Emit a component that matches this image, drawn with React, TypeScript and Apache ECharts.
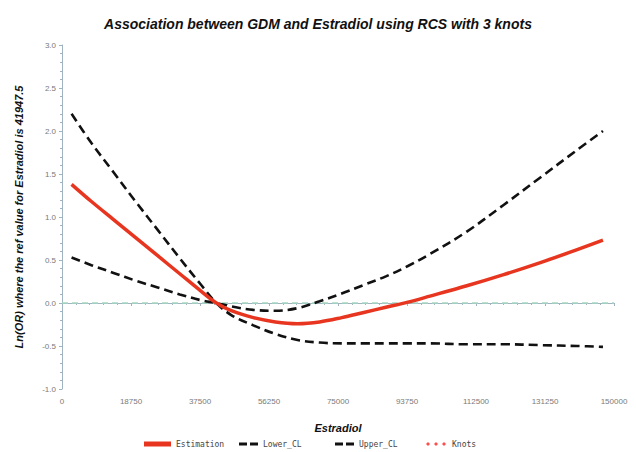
import React, { useEffect, useRef } from "react";
import * as echarts from "echarts";

const titleText = "Association between GDM and Estradiol using RCS with 3 knots";
const xName = "Estradiol";
const yName = "Ln(OR) where the ref value for Estradiol is 41947.5";

const xVals = [2600, 8000, 14000, 20000, 26000, 32000, 38000, 41947.5, 46000, 52000, 58000, 64000, 70000, 76000, 82000, 88000, 94000, 100000, 110000, 120000, 130000, 140000, 147000];
const estimation = [1.38, 1.18, 0.97, 0.76, 0.55, 0.34, 0.13, 0, -0.09, -0.17, -0.22, -0.24, -0.22, -0.17, -0.11, -0.05, 0.01, 0.08, 0.2, 0.33, 0.47, 0.62, 0.73];
const upperCL = [2.2, 1.86, 1.52, 1.18, 0.85, 0.52, 0.2, 0, -0.14, -0.26, -0.36, -0.43, -0.46, -0.47, -0.47, -0.47, -0.47, -0.47, -0.48, -0.48, -0.49, -0.5, -0.51];
const lowerCL = [0.53, 0.44, 0.35, 0.26, 0.18, 0.1, 0.03, 0, -0.04, -0.08, -0.09, -0.06, 0.02, 0.11, 0.21, 0.31, 0.43, 0.57, 0.83, 1.14, 1.46, 1.78, 2.0];
const knots: number[][] = [];

const pairs = (arr: number[]) => xVals.map((x, i) => [x, arr[i]]);

const axisColor = "#9fb3c0";
const labelColor = "#7a7a7a";
const dashIcon = "path://M0,0H8V3H0Z M11,0H19V3H11Z";
const dotsIcon = "path://M0,2L2,0L4,2L2,4Z M8,2L10,0L12,2L10,4Z M16,2L18,0L20,2L18,4Z";
const legendText = { fontFamily: "DejaVu Sans Mono", fontSize: 8, color: "#444" };

export default function App() {
  const ref = useRef<HTMLDivElement>(null);
  useEffect(() => {
    if (!ref.current) return;
    const chart = echarts.init(ref.current, undefined, { renderer: "svg" });
    chart.setOption({
      animation: false,
      backgroundColor: "#ffffff",
      title: {
        text: titleText,
        left: "center",
        top: 12,
        textStyle: { fontFamily: "Liberation Sans", fontSize: 14, fontWeight: "bold", fontStyle: "italic", color: "#111" },
      },
      grid: { left: 62, right: 22, top: 45, bottom: 63 },
      xAxis: {
        type: "value",
        min: 0,
        max: 150000,
        interval: 18750,
        name: xName,
        nameLocation: "middle",
        nameGap: 33,
        nameTextStyle: { fontFamily: "Liberation Sans", fontSize: 11, fontWeight: "bold", fontStyle: "italic", color: "#111" },
        axisLine: { lineStyle: { color: axisColor, width: 1 } },
        axisTick: { length: 3, lineStyle: { color: axisColor } },
        minorTick: { show: true, splitNumber: 5, length: 2, lineStyle: { color: axisColor } },
        splitLine: { show: false },
        axisLabel: { fontFamily: "Liberation Sans", fontSize: 8, color: labelColor, margin: 8, formatter: (v: number) => String(v) },
      },
      yAxis: {
        type: "value",
        min: -1,
        max: 3,
        interval: 0.5,
        name: yName,
        nameLocation: "middle",
        nameGap: 38,
        nameTextStyle: { fontFamily: "Liberation Sans", fontSize: 11, fontWeight: "bold", fontStyle: "italic", color: "#111" },
        axisLine: { show: true, lineStyle: { color: axisColor, width: 1 } },
        axisTick: { show: true, length: 3, lineStyle: { color: axisColor } },
        minorTick: { show: true, splitNumber: 5, length: 2, lineStyle: { color: axisColor } },
        splitLine: { show: false },
        axisLabel: {
          fontFamily: "Liberation Sans",
          fontSize: 8,
          color: labelColor,
          margin: 6,
          formatter: (v: number) => v.toFixed(1),
        },
      },
      legend: [
        { left: 142, top: 438, padding: 2, itemWidth: 27, itemHeight: 5, textStyle: legendText, data: [{ name: "Estimation", icon: "rect" }] },
        { left: 237, top: 438, padding: 2, itemWidth: 19, itemHeight: 3, textStyle: legendText, data: [{ name: "Lower_CL", icon: dashIcon }] },
        { left: 333, top: 438, padding: 2, itemWidth: 19, itemHeight: 3, textStyle: legendText, data: [{ name: "Upper_CL", icon: dashIcon }] },
        { left: 424, top: 438, padding: 2, itemWidth: 22, itemHeight: 4, textStyle: legendText, data: [{ name: "Knots", icon: dotsIcon }] },
      ],
      series: [
        {
          name: "Upper_CL",
          type: "line",
          data: pairs(upperCL),
          smooth: 0.35,
          symbol: "none",
          itemStyle: { color: "#111" },
          lineStyle: { color: "#111", width: 2.6, type: [9, 5] },
          z: 3,
        },
        {
          name: "Lower_CL",
          type: "line",
          data: pairs(lowerCL),
          smooth: 0.35,
          symbol: "none",
          itemStyle: { color: "#111" },
          lineStyle: { color: "#111", width: 2.6, type: [9, 5] },
          z: 3,
        },
        {
          name: "Estimation",
          type: "line",
          data: pairs(estimation),
          smooth: 0.35,
          symbol: "none",
          itemStyle: { color: "#e8351f" },
          lineStyle: { color: "#e8351f", width: 3.5 },
          z: 4,
          markLine: {
            silent: true,
            symbol: "none",
            label: { show: false },
            lineStyle: { color: "#a6d8c2", width: 1.5, type: [6, 4] },
            data: [{ yAxis: 0 }],
            z: 2,
          },
        },
        {
          name: "Knots",
          type: "scatter",
          data: knots,
          itemStyle: { color: "#ff2020" },
        },
      ],
    });
    return () => chart.dispose();
  }, []);
  return <div ref={ref} style={{ width: 636, height: 452, position: "absolute", left: 0, top: 0 }} />;
}
